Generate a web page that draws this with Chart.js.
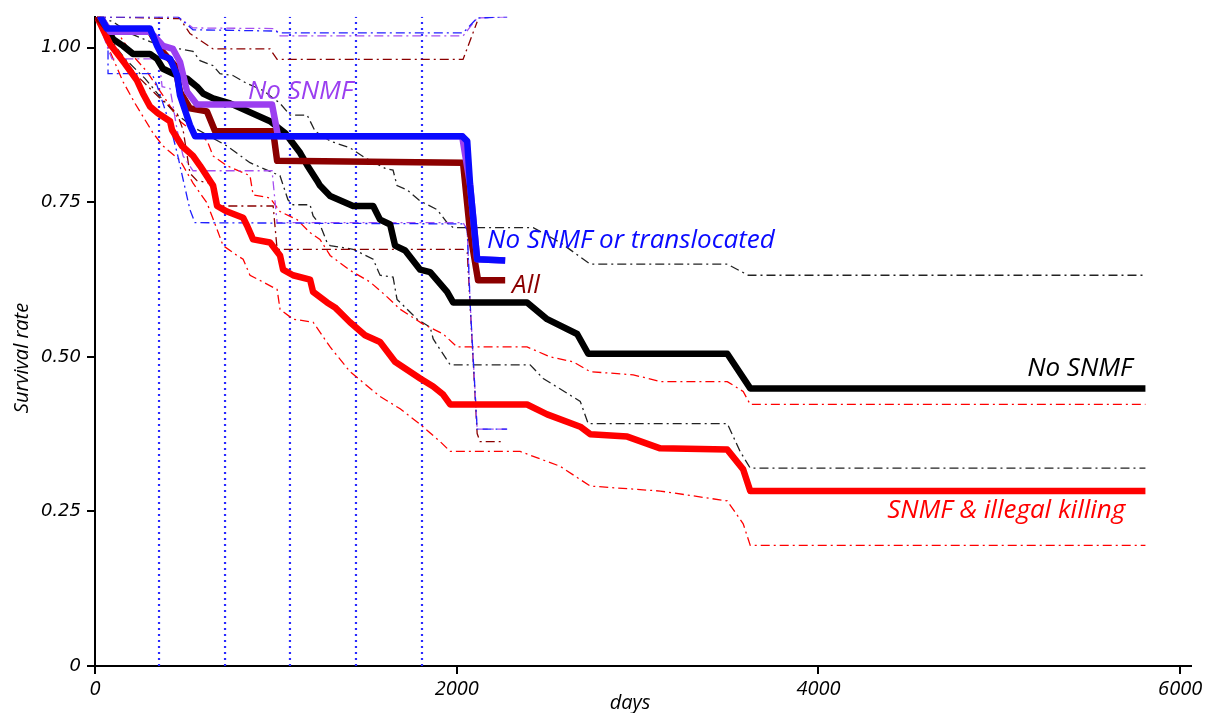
<!DOCTYPE html>
<html>
<head>
<meta charset="utf-8">
<script src="https://cdn.jsdelivr.net/npm/chart.js"></script>
<style>
  html, body { margin: 0; padding: 0; background: #fff; }
  #wrap { width: 1210px; height: 713px; }
</style>
</head>
<body>
<div id="wrap"><canvas id="survival-chart" width="1210" height="713"></canvas></div>
<script>
// Curvas de supervivencia (días, tasa)
var redDays  = [11, 83, 166, 232, 265, 304, 348, 415, 426, 481, 542, 581, 653, 675, 730, 819, 841, 874, 968, 1023, 1040, 1095, 1189, 1206, 1283, 1327, 1410, 1493, 1576, 1659, 1798, 1870, 1925, 1964, 2389, 2500, 2683, 2738, 2943, 3125, 3496, 3584, 3623, 5808];
var redSurv  = [1.050, 1.006, 0.974, 0.947, 0.926, 0.905, 0.894, 0.881, 0.867, 0.841, 0.825, 0.809, 0.777, 0.744, 0.735, 0.725, 0.712, 0.690, 0.685, 0.664, 0.641, 0.632, 0.625, 0.605, 0.588, 0.580, 0.556, 0.535, 0.524, 0.492, 0.465, 0.452, 0.439, 0.423, 0.423, 0.407, 0.387, 0.375, 0.371, 0.352, 0.350, 0.318, 0.283, 0.283];
var redUpDays = [11, 83, 138, 210, 288, 387, 470, 553, 619, 653, 730, 857, 874, 968, 1023, 1117, 1189, 1244, 1300, 1410, 1521, 1604, 1687, 1814, 1925, 2002, 2389, 2517, 2644, 2738, 2976, 3125, 3496, 3584, 3623, 5808];
var redUpSurv = [1.050, 1.035, 1.019, 0.987, 0.961, 0.918, 0.881, 0.862, 0.850, 0.825, 0.809, 0.793, 0.762, 0.757, 0.735, 0.722, 0.701, 0.690, 0.664, 0.640, 0.621, 0.600, 0.577, 0.553, 0.537, 0.516, 0.516, 0.500, 0.492, 0.476, 0.471, 0.460, 0.460, 0.444, 0.423, 0.423];
var redLoDays = [11, 44, 83, 155, 221, 321, 376, 470, 542, 619, 675, 708, 785, 819, 857, 929, 1007, 1023, 1095, 1206, 1300, 1410, 1576, 1687, 1798, 1908, 1947, 1964, 2351, 2572, 2738, 3125, 3496, 3584, 3623, 5808];
var redLoSurv = [1.050, 1.031, 0.994, 0.945, 0.910, 0.862, 0.841, 0.818, 0.781, 0.749, 0.706, 0.680, 0.664, 0.658, 0.632, 0.621, 0.609, 0.577, 0.561, 0.556, 0.516, 0.476, 0.436, 0.416, 0.391, 0.363, 0.352, 0.347, 0.347, 0.323, 0.291, 0.283, 0.267, 0.230, 0.195, 0.195];

var blackDays = [28, 100, 155, 210, 304, 343, 376, 454, 509, 564, 597, 653, 747, 968, 1051, 1134, 1173, 1228, 1244, 1300, 1427, 1538, 1576, 1632, 1659, 1715, 1798, 1853, 1947, 1980, 2389, 2500, 2666, 2727, 3496, 3623, 5808];
var blackSurv = [1.051, 1.014, 1.003, 0.990, 0.990, 0.982, 0.966, 0.955, 0.950, 0.937, 0.926, 0.918, 0.910, 0.881, 0.862, 0.830, 0.810, 0.785, 0.777, 0.760, 0.744, 0.744, 0.722, 0.714, 0.680, 0.672, 0.641, 0.637, 0.605, 0.588, 0.588, 0.561, 0.537, 0.505, 0.505, 0.449, 0.449];
var blackUpDays = [11, 100, 194, 304, 387, 470, 542, 581, 653, 691, 763, 841, 929, 1023, 1079, 1173, 1217, 1300, 1410, 1493, 1604, 1648, 1670, 1726, 1798, 1892, 1947, 1980, 2423, 2572, 2738, 3496, 3612, 5808];
var blackUpSurv = [1.050, 1.042, 1.023, 1.010, 1.002, 0.998, 0.994, 0.979, 0.971, 0.958, 0.955, 0.942, 0.931, 0.910, 0.891, 0.891, 0.865, 0.849, 0.838, 0.822, 0.805, 0.802, 0.777, 0.770, 0.752, 0.738, 0.717, 0.709, 0.709, 0.685, 0.650, 0.650, 0.632, 0.632];
var blackLoDays = [11, 83, 166, 277, 360, 442, 553, 675, 730, 857, 951, 1023, 1067, 1095, 1189, 1206, 1244, 1283, 1300, 1427, 1538, 1576, 1648, 1670, 1726, 1781, 1853, 1870, 1964, 2406, 2478, 2683, 2727, 3496, 3567, 3623, 5808];
var blackLoSurv = [1.050, 1.014, 0.982, 0.950, 0.921, 0.894, 0.870, 0.850, 0.841, 0.814, 0.802, 0.793, 0.754, 0.746, 0.746, 0.728, 0.714, 0.685, 0.680, 0.674, 0.658, 0.632, 0.629, 0.593, 0.577, 0.561, 0.548, 0.529, 0.487, 0.487, 0.465, 0.428, 0.392, 0.392, 0.347, 0.320, 0.320];

var purpleDays = [28, 83, 304, 343, 376, 431, 470, 509, 564, 979, 1012, 2030, 2074, 2113, 2268];
var purpleSurv = [1.051, 1.026, 1.026, 1.014, 1.003, 0.998, 0.977, 0.929, 0.908, 0.908, 0.857, 0.857, 0.778, 0.658, 0.656];
var purpleUpDays = [11, 459, 542, 996, 1023, 2035, 2113, 2279];
var purpleUpSurv = [1.050, 1.050, 1.032, 1.031, 1.019, 1.019, 1.048, 1.050];
var purpleLoDays = [11, 72, 94, 354, 371, 415, 454, 487, 542, 979, 1007, 2035, 2058, 2074, 2113, 2279];
var purpleLoSurv = [1.050, 0.998, 0.982, 0.982, 0.937, 0.934, 0.867, 0.825, 0.801, 0.801, 0.717, 0.717, 0.706, 0.588, 0.383, 0.383];

var blueDays = [28, 66, 304, 343, 371, 415, 454, 470, 525, 553, 2030, 2058, 2074, 2113, 2268];
var blueSurv = [1.051, 1.031, 1.031, 1.003, 0.987, 0.982, 0.955, 0.923, 0.875, 0.857, 0.857, 0.849, 0.778, 0.658, 0.656];
var blueUpDays = [11, 459, 542, 996, 1023, 2035, 2113, 2279];
var blueUpSurv = [1.050, 1.050, 1.029, 1.027, 1.024, 1.024, 1.048, 1.050];
var blueLoDays = [11, 72, 72, 315, 343, 376, 415, 454, 470, 525, 553, 2035, 2058, 2074, 2113, 2279];
var blueLoSurv = [1.050, 1.031, 0.958, 0.958, 0.939, 0.910, 0.875, 0.830, 0.809, 0.738, 0.717, 0.715, 0.706, 0.588, 0.383, 0.383];

var allDays = [11, 83, 304, 360, 442, 470, 525, 619, 664, 985, 1007, 2035, 2074, 2118, 2268];
var allSurv = [1.050, 1.026, 1.026, 0.998, 0.971, 0.929, 0.902, 0.897, 0.865, 0.865, 0.817, 0.814, 0.701, 0.624, 0.624];
var allUpDays = [11, 470, 525, 653, 968, 1007, 2035, 2113];
var allUpSurv = [1.050, 1.047, 1.023, 0.998, 0.998, 0.981, 0.981, 1.042];
var allLoDays = [11, 83, 249, 360, 454, 487, 525, 564, 636, 675, 985, 1007, 2035, 2058, 2113, 2129, 2257];
var allLoSurv = [1.050, 1.006, 0.950, 0.918, 0.894, 0.867, 0.797, 0.785, 0.781, 0.744, 0.744, 0.674, 0.674, 0.669, 0.376, 0.363, 0.363];

// Marcas anuales (líneas punteadas)
var yearMarks = [354, 719, 1078, 1443, 1808];

var xTicks = [0, 2000, 4000, 6000];
var yTicks = [0, 0.25, 0.5, 0.75, 1.0];
var xMax = 6060;
var yMax = 1.05;

function pts(days, vals) {
    return days.map(function (d, i) { return { x: d, y: vals[i] }; });
}

var dashDot = [9, 4, 2, 4];

function thick(data, color, order) {
    return { data: data, borderColor: color, borderWidth: 6.5, pointRadius: 0, fill: false, tension: 0, order: order, borderJoinStyle: 'round' };
}
function thin(data, color, order) {
    return { data: data, borderColor: color, borderWidth: 1.3, borderDash: dashDot, pointRadius: 0, fill: false, tension: 0, order: order };
}

var datasets = [
    thick(pts(blueDays, blueSurv), '#0a0aff', 1),
    thick(pts(purpleDays, purpleSurv), '#9b3ff0', 2),
    thick(pts(allDays, allSurv), '#8b0000', 3),
    thick(pts(redDays, redSurv), '#ff0000', 4),
    thick(pts(blackDays, blackSurv), '#000000', 5),
    thin(pts(blueUpDays, blueUpSurv), '#2020ff', 10),
    thin(pts(blueLoDays, blueLoSurv), '#2020ff', 10),
    thin(pts(purpleUpDays, purpleUpSurv), '#a64ff0', 11),
    thin(pts(purpleLoDays, purpleLoSurv), '#a64ff0', 11),
    thin(pts(allUpDays, allUpSurv), '#8b0000', 12),
    thin(pts(allLoDays, allLoSurv), '#8b0000', 12),
    thin(pts(redUpDays, redUpSurv), '#ff0000', 13),
    thin(pts(redLoDays, redLoSurv), '#ff0000', 13),
    thin(pts(blackUpDays, blackUpSurv), '#222222', 14),
    thin(pts(blackLoDays, blackLoSurv), '#222222', 14)
];

yearMarks.forEach(function (d) {
    datasets.push({
        data: [{ x: d, y: 0 }, { x: d, y: yMax }],
        borderColor: '#2a2aff', borderWidth: 2.2, borderDash: [2, 4],
        pointRadius: 0, fill: false, order: 20
    });
});

// Etiquetas de las curvas
var curveLabels = [
    { text: 'No SNMF', x: 846, y: 0.929, color: '#9b3ff0', align: 'left' },
    { text: 'No SNMF or translocated', x: 2168, y: 0.688, color: '#0a0aff', align: 'left' },
    { text: 'All', x: 2306, y: 0.616, color: '#8b0000', align: 'left' },
    { text: 'No SNMF', x: 5736, y: 0.481, color: '#000000', align: 'right' },
    { text: 'SNMF & illegal killing', x: 5697, y: 0.252, color: '#ff0000', align: 'right' }
];

var labelPlugin = {
    id: 'curveLabels',
    afterDatasetsDraw: function (chart) {
        var ctx = chart.ctx;
        ctx.save();
        ctx.font = 'italic 26px "Open Sans"';
        ctx.textBaseline = 'middle';
        curveLabels.forEach(function (l) {
            ctx.fillStyle = l.color;
            ctx.textAlign = l.align;
            ctx.fillText(l.text, chart.scales.x.getPixelForValue(l.x), chart.scales.y.getPixelForValue(l.y));
        });
        // títulos de los ejes
        ctx.fillStyle = '#000';
        ctx.font = 'italic 20px "Open Sans"';
        ctx.textAlign = 'center';
        ctx.fillText('days', 630, 703);
        ctx.translate(22, 358);
        ctx.rotate(-Math.PI / 2);
        ctx.fillText('Survival rate', 0, 0);
        ctx.restore();
    }
};

var survivalChart = new Chart(document.getElementById('survival-chart'), {
    type: 'line',
    data: { datasets: datasets },
    options: {
        responsive: false,
        animation: false,
        events: [],
        layout: { padding: { top: 13, right: 19, left: 0, bottom: 0 } },
        plugins: { legend: { display: false }, tooltip: { enabled: false } },
        scales: {
            x: {
                type: 'linear',
                min: 0,
                max: xMax,
                afterBuildTicks: function (scale) { scale.ticks = xTicks.map(function (v) { return { value: v }; }); },
                afterFit: function (scale) { scale.height = 47; },
                grid: { drawOnChartArea: false, drawTicks: true, tickLength: 8, color: '#000', lineWidth: 2 },
                border: { color: '#000', width: 2 },
                ticks: {
                    color: '#000', padding: 3, maxRotation: 0,
                    font: { family: 'Open Sans', size: 20, style: 'italic' },
                    callback: function (v) { return String(v); }
                }
            },
            y: {
                type: 'linear',
                min: 0,
                max: yMax,
                afterBuildTicks: function (scale) { scale.ticks = yTicks.map(function (v) { return { value: v }; }); },
                afterFit: function (scale) { scale.width = 95; },
                grid: { drawOnChartArea: false, drawTicks: true, tickLength: 8, color: '#000', lineWidth: 2 },
                border: { color: '#000', width: 2 },
                ticks: {
                    color: '#000', padding: 6,
                    font: { family: 'DejaVu Sans', size: 18, style: 'italic' },
                    callback: function (v) { return v === 0 ? '0' : v.toFixed(2); }
                }
            }
        }
    },
    plugins: [labelPlugin]
});
</script>
</body>
</html>
